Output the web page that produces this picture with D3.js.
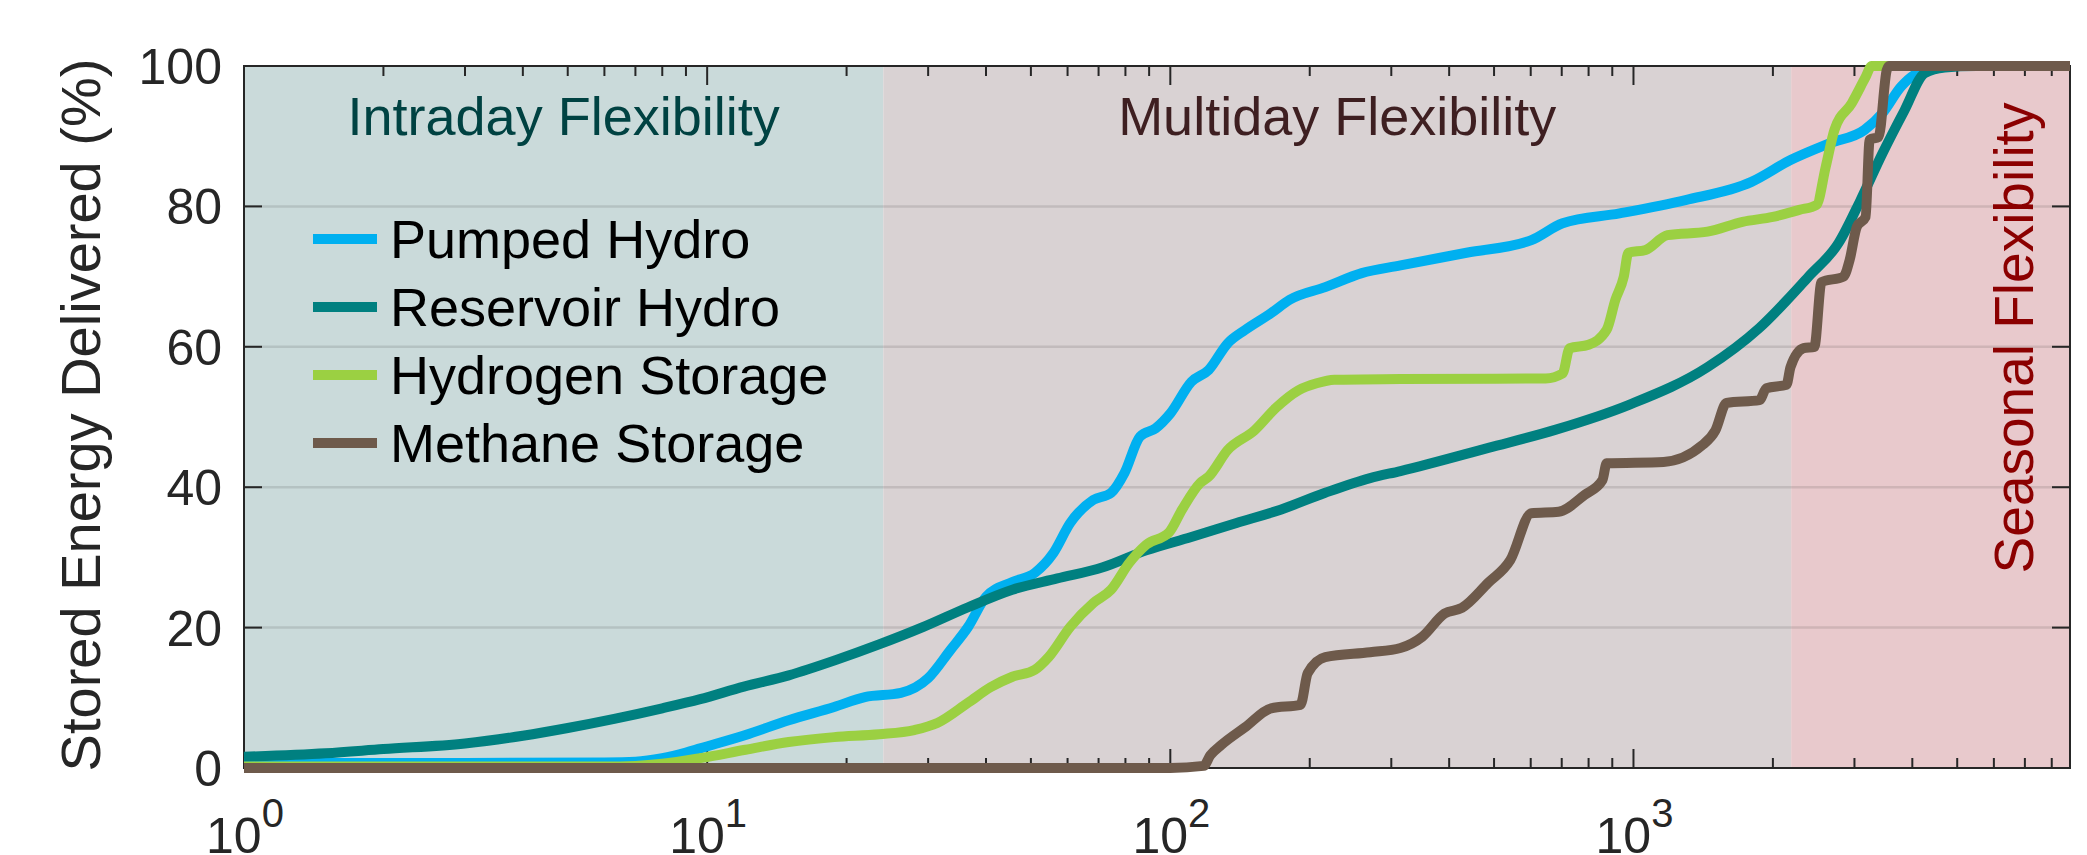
<!DOCTYPE html>
<html>
<head>
<meta charset="utf-8">
<script src="https://cdn.jsdelivr.net/npm/d3@7/dist/d3.min.js"></script>
<style>
  html, body { margin: 0; padding: 0; background: #ffffff; }
  svg { display: block; }
  text { font-family: "Liberation Sans", Arial, Helvetica, sans-serif; }
</style>
</head>
<body>
<svg id="chart" width="2087" height="855"></svg>
<script>
// ---------- DATA ----------
const seriesNames = ["Pumped Hydro", "Reservoir Hydro", "Hydrogen Storage", "Methane Storage"];
const seriesColors = ["#00b0f0", "#008080", "#9bd042", "#6e5a4b"];

// [hours, % delivered]
const pumpedHydro = [
  [1,0.7],[3,0.7],[6,0.8],[7,0.9],[8,1.4],[9,2.2],[9.66,2.8],[12.1,4.7],[15,6.8],[18.8,8.7],
  [21.9,10.1],[26.2,10.7],[30,12.8],[33.5,16.8],[36.6,20.1],[40,24.4],[45.6,26.5],[51,27.8],
  [55.9,30.6],[60.8,34.9],[68.2,38.2],[74.5,39.2],[79.6,42],[86,47.2],[93,48.4],[100,50.5],
  [111,55],[121,56.7],[133,60.5],[145,62.4],[165,64.8],[181,66.7],[216,68.5],[259,70.5],
  [314,71.6],[436,73.4],[602,75.2],[703,77.6],[933,79],[1295,80.9],[1798,83.5],[2183,86.6],
  [2654,89],[3155,90.9],[3451,93.3],[3776,97],[4030,98.7],[4500,99.7],[5000,100],[8760,100]
];
const reservoirHydro = [
  [1,1.6],[1.5,2.1],[2,2.7],[3,3.5],[4,4.6],[5,5.7],[6.3,7.0],[8,8.5],[9.66,9.8],[12,11.6],
  [15,13.2],[19,15.4],[23.5,17.6],[29.3,20.1],[36.6,22.9],[45.6,25.4],[57,27],[71.5,28.6],
  [88.7,31],[111,32.9],[139,34.9],[173,36.8],[216,39.2],[270,41.3],[314,42.3],[486,45.6],
  [680,48.2],[975,51.7],[1445,57.1],[1871,62.7],[2388,70],[2773,74.8],[3092,80.9],
  [3451,87.6],[3849,93.7],[4254,99],[4700,99.8],[5500,100],[8760,100]
];
const hydrogenStorage = [
  [1,0.2],[6,0.2],[7,0.3],[8,0.6],[9.66,1.4],[12.1,2.6],[15,3.7],[18.8,4.4],[23.5,4.8],
  [28,5.4],[31.4,6.4],[36.6,9.3],[40.9,11.5],[45.6,13],[51,14],[54.6,15.8],[60.8,20.1],
  [68.2,23.5],[74.5,25.4],[81.5,29.2],[88.7,31.8],[99.5,33.6],[106,36.8],[116,40.6],[121,41.5],
  [133,45.3],[152,48.1],[169,51.3],[189,53.8],[207,54.8],[226,55.3],[314,55.4],[646,55.5],
  [703,56.2],[728,59.8],[800,60.3],[875,62.4],[914,66.7],[953,70],[975,73.4],[1062,73.8],
  [1184,75.9],[1445,76.4],[1720,77.8],[2000,78.5],[2280,79.5],[2484,80.2],[2600,85.6],
  [2716,90.9],[2960,94.7],[3170,98.4],[3268,100],[8760,100]
];
const methaneStorage = [
  [1,0],[100,0],[118,0.3],[122,1.8],[129,3.3],[145,5.8],[165,8.5],[191,9],[198,13.5],
  [216,15.8],[270,16.5],[314,17.1],[350,18.7],[391,22],[426,22.8],[486,26.4],[542,29.6],
  [602,36.3],[689,36.5],[784,38.9],[857,41],[875,43.4],[1161,43.6],[1409,46],[1503,48.1],
  [1588,52],[1871,52.4],[1937,54.1],[2140,54.6],[2183,57.1],[2330,59.8],[2458,60],
  [2546,69.2],[2842,70],[2930,72.4],[3036,77.1],[3170,78.5],[3236,89.5],[3383,89.9],
  [3522,99.4],[3560,100],[8760,100]
];
const seriesData = [pumpedHydro, reservoirHydro, hydrogenStorage, methaneStorage];

const regionBounds = [1, 24, 2190, 8760];
const regionNames = ["Intraday Flexibility", "Multiday Flexibility", "Seasonal Flexibility"];
const regionFills = ["#cadada", "#d9d2d3", "#e8c9cc"];
const regionTextColors = ["#004242", "#3e1f21", "#8b0000"];

const yTicks = [0, 20, 40, 60, 80, 100];
const xMajorTicks = [1, 10, 100, 1000];
const xTickExponents = ["0", "1", "2", "3"];
const yTitle = "Stored Energy Delivered (%)";

// ---------- LAYOUT ----------
const L = 244, R = 2070, T = 66, B = 768;
const svg = d3.select("#chart");
const x = d3.scaleLog().domain([1, 8760]).range([L, R]);
const y = d3.scaleLinear().domain([0, 100]).range([B, T]);

// region backgrounds
for (let i = 0; i < 3; i++) {
  svg.append("rect")
    .attr("x", x(regionBounds[i]))
    .attr("y", T)
    .attr("width", x(regionBounds[i + 1]) - x(regionBounds[i]))
    .attr("height", B - T)
    .attr("fill", regionFills[i]);
}

// grid
svg.append("g").selectAll("line")
  .data(yTicks.filter(d => d > 0 && d < 100))
  .join("line")
  .attr("x1", L).attr("x2", R)
  .attr("y1", d => y(d)).attr("y2", d => y(d))
  .attr("stroke", "#262626").attr("stroke-opacity", 0.13).attr("stroke-width", 2.5);

// region labels
svg.append("text")
  .attr("x", (x(regionBounds[0]) + x(regionBounds[1])) / 2)
  .attr("y", 135)
  .attr("text-anchor", "middle")
  .attr("font-size", 54)
  .attr("fill", regionTextColors[0])
  .text(regionNames[0]);
svg.append("text")
  .attr("x", (x(regionBounds[1]) + x(regionBounds[2])) / 2)
  .attr("y", 135)
  .attr("text-anchor", "middle")
  .attr("font-size", 54)
  .attr("fill", regionTextColors[1])
  .text(regionNames[1]);
svg.append("text")
  .attr("transform", `translate(2033,338) rotate(-90)`)
  .attr("text-anchor", "middle")
  .attr("font-size", 55)
  .attr("fill", regionTextColors[2])
  .text(regionNames[2]);

// axes box
const axisColor = "#262626";
svg.append("rect")
  .attr("x", L).attr("y", T).attr("width", R - L).attr("height", B - T)
  .attr("fill", "none").attr("stroke", axisColor).attr("stroke-width", 2);

// x ticks (bottom & top)
const minorTicks = [];
for (let dec = 1; dec <= 1000; dec *= 10) {
  for (let m = 2; m <= 9; m++) {
    const v = m * dec;
    if (v < 8760) minorTicks.push(v);
  }
}
const gx = svg.append("g").attr("stroke", axisColor).attr("stroke-width", 2);
minorTicks.forEach(v => {
  gx.append("line").attr("x1", x(v)).attr("x2", x(v)).attr("y1", B).attr("y2", B - 10);
  gx.append("line").attr("x1", x(v)).attr("x2", x(v)).attr("y1", T).attr("y2", T + 10);
});
xMajorTicks.forEach(v => {
  gx.append("line").attr("x1", x(v)).attr("x2", x(v)).attr("y1", B).attr("y2", B - 19);
  gx.append("line").attr("x1", x(v)).attr("x2", x(v)).attr("y1", T).attr("y2", T + 19);
});
// y ticks (left & right)
yTicks.forEach(v => {
  gx.append("line").attr("x1", L).attr("x2", L + 18).attr("y1", y(v)).attr("y2", y(v));
  gx.append("line").attr("x1", R).attr("x2", R - 18).attr("y1", y(v)).attr("y2", y(v));
});

// y tick labels
svg.append("g").selectAll("text")
  .data(yTicks)
  .join("text")
  .attr("x", 222)
  .attr("y", d => y(d) + 18)
  .attr("text-anchor", "end")
  .attr("font-size", 50)
  .attr("fill", axisColor)
  .text(d => d);

// x tick labels 10^n
xMajorTicks.forEach((v, i) => {
  const t = svg.append("text")
    .attr("x", x(v) + 1)
    .attr("y", 853)
    .attr("text-anchor", "middle")
    .attr("font-size", 50)
    .attr("fill", axisColor);
  t.append("tspan").text("10");
  t.append("tspan").attr("font-size", 40).attr("dy", -26).text(xTickExponents[i]);
});

// y title
svg.append("text")
  .attr("transform", `translate(100,415) rotate(-90)`)
  .attr("text-anchor", "middle")
  .attr("font-size", 56)
  .attr("fill", axisColor)
  .text(yTitle);

// curves
const line = d3.line()
  .x(d => x(d[0]))
  .y(d => y(d[1]))
  .curve(d3.curveMonotoneX);
seriesData.forEach((data, i) => {
  svg.append("path")
    .datum(data)
    .attr("d", line)
    .attr("fill", "none")
    .attr("stroke", seriesColors[i])
    .attr("stroke-width", 10)
    .attr("stroke-linejoin", "round");
});

// legend
const legendY0 = 239, legendDy = 68;
seriesNames.forEach((name, i) => {
  const ly = legendY0 + i * legendDy;
  svg.append("line")
    .attr("x1", 313).attr("x2", 377)
    .attr("y1", ly).attr("y2", ly)
    .attr("stroke", seriesColors[i]).attr("stroke-width", 10);
  svg.append("text")
    .attr("x", 390).attr("y", ly + 19)
    .attr("font-size", 54)
    .attr("fill", "#000000")
    .text(name);
});
</script>
</body>
</html>
